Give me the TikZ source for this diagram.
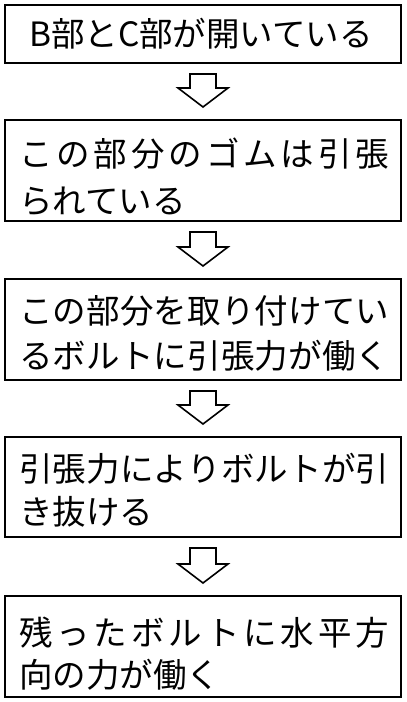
\documentclass[tikz,border=0pt]{standalone}
\usepackage{fontspec}
\newfontfamily\jp{Noto Sans CJK JP}
\usetikzlibrary{calc}
\makeatletter
\newcommand\jspread[2]{\makebox[#1][s]{\@tfor\jtok:=#2\do{\jtok\hfil}\unskip}}
\makeatother
\newcommand\hollowdown[2]{%
  \path[harrow] let \p1=(#1.south), \p2=(#2.north) in
    (\x1-13pt,\y1-10pt) -- (\x1+13pt,\y1-10pt) -- (\x1+13pt,\y2+31pt) --
    (\x1+25pt,\y2+31pt) -- (\x1,\y2+12pt) -- (\x1-25pt,\y2+31pt) --
    (\x1-13pt,\y2+31pt) -- cycle;}
\begin{document}
\begin{tikzpicture}[x=1pt,y=-1pt,
  box/.style={draw, line width=2pt, minimum width=396pt, inner sep=0pt},
  txt/.style={font=\jp\fontsize{33.5}{40}\selectfont, inner sep=0pt, anchor=base west},
  harrow/.style={draw, line width=1.6pt, fill=white, line join=miter}]
\useasboundingbox[fill=white] (0,0) rectangle (407,702);
% boxes
\node[box, minimum height=58pt]  (b1) at (203,34) {};
\node[box, minimum height=101pt] (b2) at (203,170.5) {};
\node[box, minimum height=101pt] (b3) at (203,329.5) {};
\node[box, minimum height=100pt] (b4) at (203,487) {};
\node[box, minimum height=101pt] (b5) at (203,646.5) {};
% texts
\node[txt, anchor=base] (t1) at (201,46) {B部とC部が開いている};
\node[txt] (t2a) at (19,166) {\jspread{370pt}{この部分のゴムは引張}};
\node[txt] (t2b) at (19,213) {られている};
\node[txt] (t3a) at (19,323) {\jspread{370pt}{この部分を取り付けてい}};
\node[txt] (t3b) at (19,368) {\jspread{370pt}{るボルトに引張力が働く}};
\node[txt] (t4a) at (19,481) {\jspread{370pt}{引張力によりボルトが引}};
\node[txt] (t4b) at (19,524) {き抜ける};
\node[txt] (t5a) at (19,645) {\jspread{370pt}{残ったボルトに水平方}};
\node[txt] (t5b) at (19,687) {向の力が働く};
% arrows
\hollowdown{b1}{b2}
\hollowdown{b2}{b3}
\hollowdown{b3}{b4}
\hollowdown{b4}{b5}
\end{tikzpicture}
\end{document}
